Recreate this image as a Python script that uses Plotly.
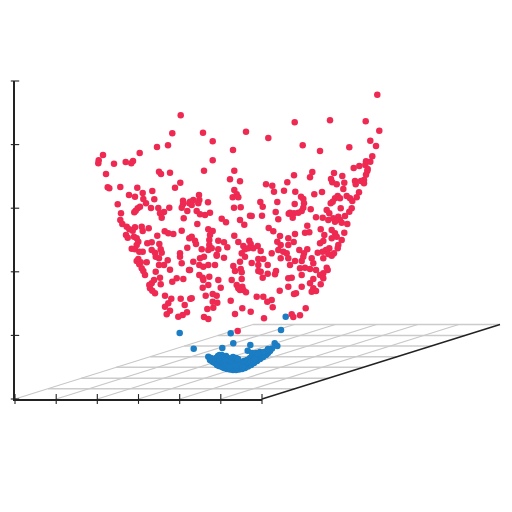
import plotly.graph_objects as go

# Values, in the scale of the chart's own axes
red_points = [
(180.7,115.3),(172.3,133.3),(139.7,153),(157,147),(168,145.3),(103,155),(98.7,160.3),(98.3,163.3),(114,163.7),(125.7,162),(133,161),(131.3,163.3),
(203,132.7),(212.7,141.3),(233,150),(246,131.7),(268.3,138),(212.7,160.3),(204,170.7),(234.3,170.7),
(377.3,94.7),(294.7,122.3),(330,120.3),(365.7,121.3),(379.3,130.7),(370.3,140.7),(376,146),(302.7,145.3),(320,151),(349.3,147.3),(372.3,156.3),(366,161.3),(370.3,161.7),(359.3,166),(353.7,168),(365.3,165),(367.7,169),
(106,174),(159,171.7),(161,174),(170,172.7),(107.7,187.3),(109.3,188.3),(120.3,187),(137.3,187.7),(129,195),(135,196.7),(142.7,193),(152.3,191),(154.3,199.3),(143.3,199),(146,203.3),(175,187.7),(180.3,182.7),(117.7,204.3),(151,208),(158.3,208),(164,212),(169.3,207.7),(160,213.3),(161.7,217.7),(140,206.7),(137.7,208.3),(135.7,210.7),(134.3,212.3),(183,200.7),(183,204.3),(181.7,207.7),(187.3,211),(183.7,218.3),(121,213.3),(120.3,220),(122.3,224),(126.7,226.7),(129.3,229.3),(135,227.3),(132.7,230.7),(126,235),(127.7,237.7),(141.7,226.7),(142.7,231),(148.7,228.3),(157.3,235.7),(164.7,231.3),(168.3,233.3),(173.3,234),(181.7,230.7),(189.3,238.3),(134,236.7),(136.7,238.3),(138.3,241.7),(136.7,245),(131.7,248.7),(135,249.3),(139.3,251.7),(142.7,251.7),(147.3,243.3),(151.7,242.3),(151.7,250),(155,252.7),(159.3,244),(160.7,249.3),(161.7,252.7),(180,253.3),(187.3,247.7),(189.3,203.3),
(230,179.3),(240,181.3),(234.3,190),(236.7,194.3),(232.7,197.3),(238.3,197.3),(234,207.7),(240.7,207.3),(266,184.3),(272.3,185.7),(274,191.7),(284,190.7),(287.3,182.3),(199,195),(193.3,200),(199.3,200),(198.3,203.3),(191.7,205),(190,201.7),(208,202.3),(196.7,211),(200,214.3),(205,215),(210,212.7),(197.3,224),(221.7,218.7),(226,222.3),(240,220),(244.3,224.7),(250,215.7),(251.7,216),(260.3,202),(262.7,206.7),(262,215.7),(277.3,202),(275.7,212),(278.3,219.3),(288.7,213.7),(268.7,228),(273.3,231.3),(234.3,235.7),(208.3,229.3),(212.7,231),(210,235),(209.3,240),(209.3,245),(211.7,248.3),(191.7,236.7),(195,240.7),(196,244),(218.3,240.7),(224,242.3),(227.3,247.3),(218.3,249.3),(201.7,249.3),(208.3,250),(238.3,242),(243.3,246),(245,249.3),(249.3,240.7),(250.7,244),(248.3,248.3),(253.3,248.3),(257.7,246),(260.7,251),(280,236),(277.3,241.7),(280.7,245),(278.3,250),(288.3,238.3),(288.3,245),(241.7,253.3),(216.7,254.7),(271.7,253.3),(286.7,253.3),(283.3,251.7),
(294,175.3),(312.3,172),(310,177.3),(334,173),(342.3,176),(331,179),(332.3,182.3),(344.3,182.7),(336.7,184.3),(367.3,171),(366,174.7),(364,180),(355,181),(355.7,184.3),(361,181),(364,183.3),(343.3,189),(295.3,191.7),(314.3,194.3),(322,192),(301,196.7),(303.3,199),(304,203.3),(294.7,204),(303.3,207.7),(301.7,211),(359,192.3),(356.7,197.3),(346.7,196),(350,198.3),(352.3,201),(351.7,208.3),(349.3,211.7),(345,216),(340,198.3),(335,198.3),(332.7,201.7),(330.7,203.3),(337.7,196),(340.7,208.3),(326.7,210),(329.3,213.3),(310.7,209.3),(290,212.7),(294,213.3),(298.3,212.7),(292.7,217.7),(316,217.3),(322.7,217.7),(328.3,220),(333.3,218.3),(338.3,216.7),(335,221.7),(340,220),(341.7,222.7),(347.3,224),(307.3,225.7),(309.3,232.3),(305,232.7),(320.7,229.3),(295,234),(293.7,242),(324.3,235),(323.3,241),(320,243.3),(331.7,230),(335,233.3),(331.7,238.3),(336.7,236.7),(341.7,240),(344.3,232.7),(338.3,245),(337.7,248.3),(329.3,248.3),(326,250),(322.7,251.7),(317.7,252.7),(299.3,250),(307.3,249.3),(304,253.3),(334,253.3),(328.3,254),
(138.3,259),(136.7,261),(140.7,262.3),(139.3,264.3),(146.7,262.3),(141.7,268.3),(143.3,271),(145,275),(155.7,256.7),(159,258.3),(167.7,260.3),(180,256.7),(181.7,263.3),(159,265),(164,265),(170,269.7),(155.7,271.7),(160,277.7),(154,280),(151.7,283.3),(149.3,285),(150,288.3),(152.3,290.7),(155,293.3),(160.7,284.3),(183.3,279),(176.7,278.3),(172.3,281.7),(189,270),(165,295.7),(171.3,298.7),(180.7,298.7),(190.3,298.7),(168.3,303.3),(165,306.7),(170,310.7),(166.7,314.3),(184.7,305),(187,312.3),(178.3,316.7),(182.7,315),
(193.3,261.7),(190,270),(199.3,265),(203.3,266.7),(208.3,265),(215,265),(204,256.7),(200,258.3),(216.7,255.7),(224,257.7),(240,261.7),(245,256.7),(251.7,263),(258.3,259),(263.3,259),(258.3,265),(267.7,265),(280.7,258.3),(288.3,258.3),(233.3,266),(235,271),(240.7,269),(241.7,272.3),(241.7,279),(231.7,280),(258.3,271),(260.7,271.7),(267.7,273.7),(262.7,277.7),(276,271),(275,274.3),(288.3,278.3),(199.3,275),(202.7,277.7),(203.3,280),(209.3,276.7),(218.3,280),(208.3,285),(202.7,287.7),(220.7,287.7),(236.7,285),(238.3,288.3),(242.3,286.7),(243.3,290),(240,290),(246,292.3),(205.7,295.7),(212.7,294),(216.7,295.7),(212.7,301.7),(217.3,302.7),(191.7,298.3),(230.7,300.7),(207.3,309),(213.3,307.7),(256.7,296.7),(263.3,296.7),(271.7,300),(267.3,301.7),(272.7,307.3),(279.7,290.7),(288.3,286.7),(242.3,308.3),(235,314),(250.7,311.7),(204,317),(208.3,319),(264,318.3),(237.7,331),
(295,261),(290,265),(303.3,256.7),(301.7,261),(300,268.3),(305,267.7),(310,269),(311.7,258.3),(313.3,263.3),(316,270),(323.3,258.3),(331.7,255.7),(326.7,267.7),(327.7,270),(323.3,273.3),(320,275),(301.7,275),(323.3,278.3),(313.3,279),(310,283.3),(320.7,284.3),(301.7,286.7),(313.3,288.3),(311.7,291.7),(316,291),(294,294),(296,293.3),(291.7,277.7),(305.7,308.3),(291.7,314.3),(293.3,317),(300,315.3),
]

blue_points = [
(179.7,333),(230.7,333.3),(285.7,316.7),(281,330),(233.3,343.3),(250.3,345),(193.7,348.7),(222.3,348),(247.7,350.7),(274.7,343.3),(277.3,346),
(208.3,356.7),(210,360),(211,358),(212,361),(213,362),(216,358),(218,356),(219.5,355),(221.7,355),(215,363),(217,365),(219,366),(222,367),(224,368),(227,369),(230,369.5),(233,370),(236,370),(239,369.5),(242,369),(245,368),(248,366.5),(251,365),(254,363),(257,361),(260,359),(263,357),(266,355),(268,353),(270,351),(272,348.5),
(222,362),(225,363),(228,365),(231,366),(234,367),(237,367),(240,366),(243,365),(246,363),(249,361),(252,359),(255,357),(258,356),(261,354),(264,353),(267,351),
(226,356),(228,358),(230,360),(233,360),(235,362),(238,363),(241,362),(244,361),(247,360),(250,358),(253,356),
(229,362),(232,363),(235,365),(238,365),(241,364),(244,363),(247,362),(251,362),(254,361),(257,358),(260,356),(263,355),
(252,353),(256,353),(260,352),(264,352),(268,349),(233,357),(236,358),(238,359),(220,360),(222,358),(225,360),(226,366),(229,367),(243,367),(255,359),(258,354),
]

red_x = [p[0] for p in red_points]
red_y = [p[1] for p in red_points]
blue_x = [p[0] for p in blue_points]
blue_y = [p[1] for p in blue_points]

x_ticks = [15, 56.2, 97.3, 138.5, 179.7, 220.8, 262]
z_ticks = [399, 335.4, 271.8, 208.2, 144.6, 81]
floor_levels = [399, 388.7, 378.3, 367.3, 356.7, 346, 335.5, 324.5]
depth_dx = 238

FLOOR_BACK = floor_levels[-1]
FLOOR_FRONT = floor_levels[0]
slope = depth_dx / (FLOOR_FRONT - FLOOR_BACK)

def depth_shift(level):
    return (FLOOR_FRONT - level) * slope

hgrid_x, hgrid_y = [], []
for level in floor_levels[1:]:
    start = x_ticks[0] + depth_shift(level)
    hgrid_x += [start, start + x_ticks[-1] - x_ticks[0], None]
    hgrid_y += [level, level, None]
dgrid_x, dgrid_y = [], []
for t in x_ticks[:-1]:
    dgrid_x += [t, t + depth_dx, None]
    dgrid_y += [FLOOR_FRONT, FLOOR_BACK, None]

fig = go.Figure()
fig.add_trace(go.Scatter(x=hgrid_x, y=hgrid_y, mode="lines", cliponaxis=False,
                         line=dict(color="#cccccc", width=1.6), hoverinfo="skip"))
fig.add_trace(go.Scatter(x=dgrid_x, y=dgrid_y, mode="lines", cliponaxis=False,
                         line=dict(color="#c8c8c8", width=1.2), hoverinfo="skip"))
fig.add_trace(go.Scatter(x=[x_ticks[-1], x_ticks[-1] + depth_dx], y=[FLOOR_FRONT, FLOOR_BACK],
                         mode="lines", cliponaxis=False,
                         line=dict(color="#222222", width=1.5), hoverinfo="skip"))
fig.add_trace(go.Scatter(x=x_ticks, y=[FLOOR_FRONT] * len(x_ticks), mode="markers", cliponaxis=False,
                         xaxis="x2", yaxis="y2",
                         marker=dict(symbol="line-ns", size=7, line=dict(color="#222222", width=1.1)),
                         hoverinfo="skip"))
fig.add_trace(go.Scatter(x=[x_ticks[0]] * len(z_ticks), y=z_ticks, mode="markers", cliponaxis=False,
                         xaxis="x2", yaxis="y2",
                         marker=dict(symbol="line-ew", size=6, line=dict(color="#222222", width=1.1)),
                         hoverinfo="skip"))
fig.add_trace(go.Scatter(x=blue_x, y=blue_y, mode="markers", cliponaxis=False, name="low",
                         marker=dict(color="#1b7dc3", size=6.5, line=dict(width=0))))
fig.add_trace(go.Scatter(x=red_x, y=red_y, mode="markers", cliponaxis=False, name="high",
                         marker=dict(color="#ee2a52", size=6.5, line=dict(width=0))))

fig.update_layout(
    width=512, height=512, autosize=False,
    margin=dict(l=0, r=0, t=0, b=0),
    paper_bgcolor="white", plot_bgcolor="rgba(0,0,0,0)", showlegend=False,
    xaxis=dict(domain=[0, 1], range=[0, 512], visible=False),
    yaxis=dict(domain=[0, 1], range=[512, 0], visible=False),
    xaxis2=dict(domain=[15 / 512, 262 / 512], range=[15, 262], showgrid=False, zeroline=False,
                showline=True, linecolor="#222222", linewidth=1.5,
                tickvals=x_ticks, ticks="", showticklabels=False, anchor="y2"),
    yaxis2=dict(domain=[1 - 399 / 512, 1 - 81 / 512], range=[399, 81], showgrid=False, zeroline=False,
                showline=True, linecolor="#222222", linewidth=1.5,
                tickvals=z_ticks, ticks="", showticklabels=False, anchor="x2"),
)
fig.write_html("out.html", post_script="document.body.style.margin='0';",
               config={"displayModeBar": False})
